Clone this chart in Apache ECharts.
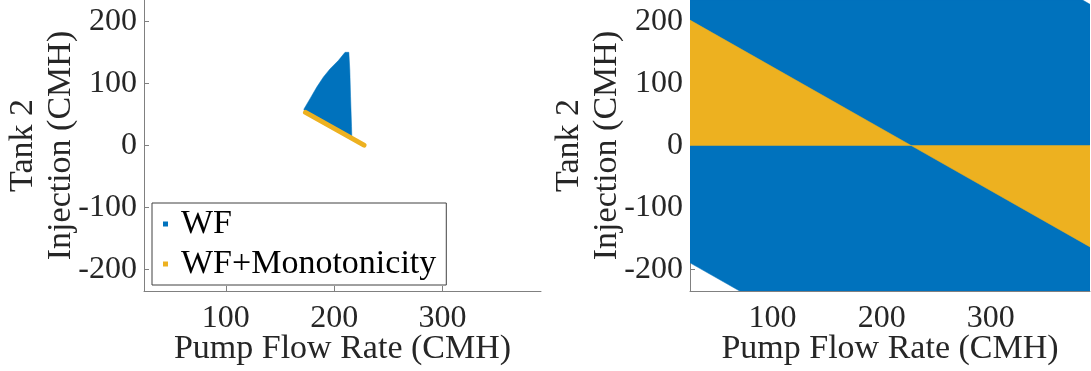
<!DOCTYPE html>
<html>
<head>
<meta charset="utf-8">
<script src="https://cdn.jsdelivr.net/npm/echarts@6/dist/echarts.min.js"></script>
<style>
html,body{margin:0;padding:0;background:#fff;}
#c{width:1091px;height:371px;}
</style>
</head>
<body>
<div id="c"></div>
<script>
// ---- data ----
const xRange = [24.5, 390.8];
const yRange = [-235, 235];
const xTicks = [100, 200, 300];
const yTicks = [-200, -100, 0, 100, 200];
const seriesNames = ['WF', 'WF+Monotonicity'];
// left panel: WF feasible region (polygon, data units)
const wfLeft = [[210,150.5],[213.5,150.5],[214.4,121.8],[215.1,78.7],[216,30.3],[216.3,10.7],
  [173,54],[172,58.6],[177.6,75.3],[183.8,94],[189.9,110.2],[196.1,123.7],[203.8,137.1]];
// left panel: WF+Monotonicity (thin strip)
const monoLeft = [[173.5,53.5],[227.5,0.5]];
// right panel: WF region
const wfRight = [[24.5,-189.5],[70,-235],[390.8,-235],[390.8,228],[384,235],[24.5,235]];
// right panel: WF+Monotonicity regions
const monoRightA = [[24.5,202.5],[227,0],[24.5,0]];
const monoRightB = [[227,0],[390.8,0],[390.8,-163.8]];

const BLUE = '#0072BD', YELLOW = '#EDB120';
const FONT = 'Liberation Serif';
const TXT = '#262626';

function polySeries(name, pts, color, idx) {
  return {
    name: name, type: 'custom', xAxisIndex: idx, yAxisIndex: idx, clip: true,
    itemStyle: {color: color},
    data: pts,
    renderItem: function (params, api) {
      if (params.dataIndex !== 0) return null;
      const p = pts.map(function (d) { return api.coord(d); });
      return {type: 'polygon', shape: {points: p}, style: {fill: color, stroke: color, lineWidth: 0.5}};
    },
    silent: true, animation: false
  };
}

function xAxis(idx) {
  return {
    type: 'value', gridIndex: idx, min: xRange[0], max: xRange[1],
    name: 'Pump Flow Rate (CMH)', nameLocation: 'middle', nameGap: 41, nameMoveOverlap: false,
    nameTextStyle: {fontFamily: FONT, fontSize: 34, color: TXT, lineHeight: 34},
    axisLine: {show: true, onZero: false, lineStyle: {color: '#808080', width: 1}},
    axisTick: {show: true, inside: true, length: 5, customValues: xTicks, lineStyle: {color: '#808080'}},
    axisLabel: {show: true, customValues: xTicks, margin: 12, fontFamily: FONT, fontSize: 32, color: TXT},
    splitLine: {show: false}
  };
}
function yAxis(idx) {
  return {
    type: 'value', gridIndex: idx, min: yRange[0], max: yRange[1],
    name: 'Tank 2\nInjection (CMH)', nameLocation: 'middle', nameGap: 64, nameRotate: 90, nameMoveOverlap: false,
    nameTextStyle: {fontFamily: FONT, fontSize: 34, color: TXT, lineHeight: 38, align: 'center'},
    axisLine: {show: true, onZero: false, lineStyle: {color: '#808080', width: 1}},
    axisTick: {show: true, inside: true, length: 5, customValues: yTicks, lineStyle: {color: '#808080'}},
    axisLabel: {show: true, customValues: yTicks, margin: 7, fontFamily: FONT, fontSize: 32, color: TXT},
    splitLine: {show: false}
  };
}

const chart = echarts.init(document.getElementById('c'), null, {renderer: 'canvas'});
chart.setOption({
  animation: false,
  backgroundColor: '#fff',
  grid: [
    {left: 144, top: 0, width: 397, height: 291, containLabel: false, outerBoundsMode: 'none'},
    {left: 690, top: 0, width: 400, height: 291, containLabel: false, outerBoundsMode: 'none'}
  ],
  xAxis: [xAxis(0), xAxis(1)],
  yAxis: [yAxis(0), yAxis(1)],
  legend: {
    left: 152, top: 203, orient: 'vertical',
    data: [{name: seriesNames[0], icon: 'rect'}, {name: seriesNames[1], icon: 'rect'}],
    itemWidth: 5, itemHeight: 5, itemGap: 4,
    padding: [3, 10, 3, 11],
    borderColor: '#404040', borderWidth: 1, backgroundColor: '#fff',
    selectedMode: false,
    textStyle: {fontFamily: FONT, fontSize: 34, color: '#000', lineHeight: 36, padding: [0, 0, 0, 8]}
  },
  series: [
    polySeries(seriesNames[0], wfLeft, BLUE, 0),
    {
      name: seriesNames[1], type: 'line', xAxisIndex: 0, yAxisIndex: 0,
      data: monoLeft, showSymbol: false, symbol: 'none',
      itemStyle: {color: YELLOW},
      lineStyle: {color: YELLOW, width: 5, cap: 'round'},
      silent: true, animation: false
    },
    polySeries(seriesNames[0], wfRight, BLUE, 1),
    polySeries(seriesNames[1], monoRightA, YELLOW, 1),
    polySeries(seriesNames[1], monoRightB, YELLOW, 1)
  ]
});
</script>
</body>
</html>
